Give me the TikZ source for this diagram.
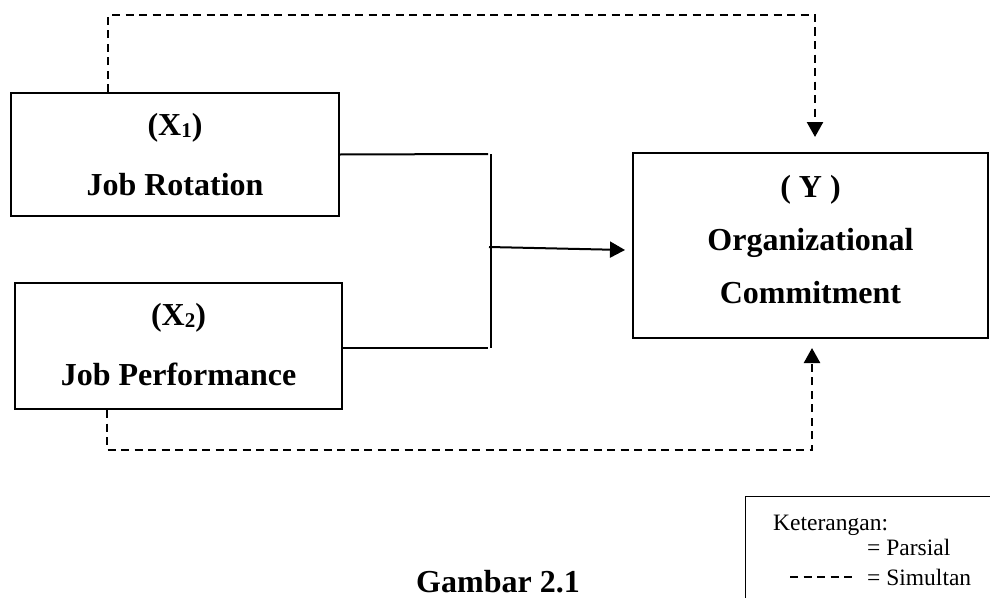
\documentclass[tikz,border=0pt]{standalone}
\usepackage{fontspec}
\setmainfont{Liberation Serif}
\usetikzlibrary{arrows.meta,calc}
\tikzset{
  box/.style={draw, line width=2pt, rectangle, inner sep=0pt},
  lbl/.style={anchor=base, inner sep=0pt, font=\fontsize{32}{32}\selectfont\bfseries},
  legtxt/.style={anchor=base west, inner sep=0pt, font=\fontsize{23.5}{24}\selectfont},
  solidln/.style={line width=2pt},
  dashln/.style={line width=2.4pt, dash pattern=on 8pt off 5.5pt},
  tip/.style={-{Triangle[width=16pt,length=15pt]}},
}
\newcommand{\sbs}[1]{\raisebox{-2pt}{\fontsize{21}{21}\selectfont #1}}
\begin{document}
\begin{tikzpicture}[x=1pt,y=-1pt]
\useasboundingbox (0,0) rectangle (990,597);
% boxes
\node[box, minimum width=328pt, minimum height=123pt] (X1) at (175,154.5) {};
\node[box, minimum width=327pt, minimum height=126pt] (X2) at (178.5,346) {};
\node[box, minimum width=355pt, minimum height=185pt] (Y) at (810.5,245.5) {};
% labels
\node[lbl] (t1a) at (175,135) {(X\sbs{1})};
\node[lbl] (t1b) at (175,195) {Job Rotation};
\node[lbl] (t2a) at (178.5,325) {(X\sbs{2})};
\node[lbl] (t2b) at (178.5,385) {Job Performance};
\node[lbl] (tya) at (810.5,197) {( Y )};
\node[lbl] (tyb) at (810.5,250) {Organizational};
\node[lbl] (tyc) at (810.5,303) {Commitment};
\node[lbl] (cap) at (498,592) {Gambar 2.1};
% partial connectors
\coordinate (jt) at (491,154);
\coordinate (jb) at (491,348);
\coordinate (jm) at (489,247);
\coordinate (ya) at (625,250);
\draw[solidln] (X1.east) -- (488,154);
\draw[solidln] (X2.east |- jb) -- (488,348);
\draw[solidln] (jt) -- (jb);
\draw[solidln, tip] (jm) -- (ya);
% simultaneous connectors
\coordinate (c1) at (108,15);
\coordinate (c2) at (815,15);
\coordinate (c3) at (107,450);
\coordinate (c4) at (812,450);
\coordinate (e1) at (815,137);
\coordinate (e2) at (812,348);
\draw[dashln, tip] (X1.north -| c1) -- (c1) -- (c2) -- (e1);
\draw[dashln, tip] (X2.south -| c3) -- (c3) -- (c4) -- (e2);
% legend
\node[draw, line width=1.2pt, rectangle, minimum width=260pt, minimum height=120pt, anchor=north west, inner sep=0pt] (leg) at (745,496) {};
\node[legtxt] (k) at (773,530) {Keterangan:};
\node[legtxt] (p) at (867,555) {= Parsial};
\node[legtxt] (s) at (867,585) {= Simultan};
\coordinate (d1) at (790,577);
\coordinate (d2) at (852,577);
\draw[line width=2pt, dash pattern=on 8pt off 5.5pt] (d1) -- (d2);
\end{tikzpicture}
\end{document}
